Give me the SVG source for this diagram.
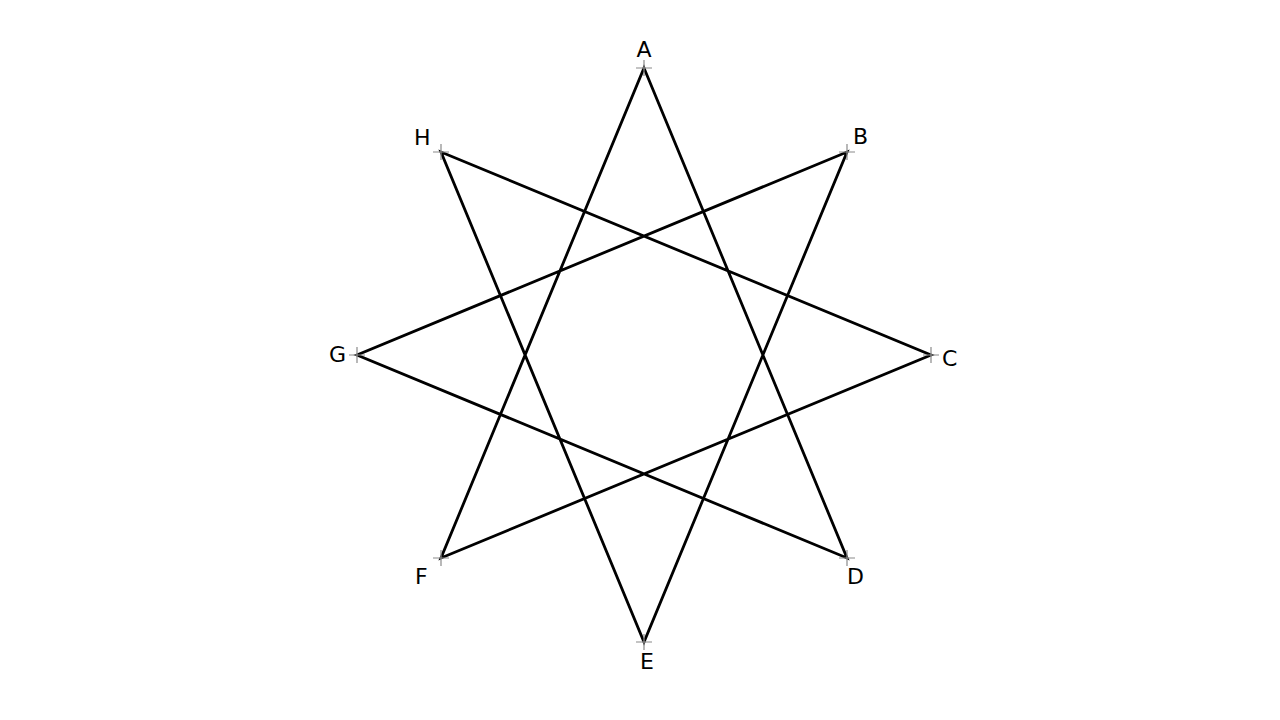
<svg xmlns="http://www.w3.org/2000/svg" width="1280" height="720" viewBox="0 0 1280 720">
<style>
.edge{stroke:#000;stroke-width:2.8;fill:none;stroke-linejoin:miter;stroke-linecap:round}
.tick{stroke:#8a8a8a;stroke-width:1.2;fill:none}
.lbl{font-family:"DejaVu Sans",sans-serif;font-size:22px;fill:#000}
</style>
<defs>
<path id="cross" class="tick" d="M-8,0H8M0,-8V8"/>
</defs>
<rect width="1280" height="720" fill="#fff"/>
<g id="connectors">
<path class="edge" d="M644,68L847,558L357,355L847,152L644,642L441,152L931,355L441,558Z"/>
</g>
<g id="A"><use href="#cross" x="644" y="68"/><text class="lbl" x="644" y="57" text-anchor="middle">A</text></g>
<g id="B"><use href="#cross" x="847" y="152"/><text class="lbl" x="853" y="144">B</text></g>
<g id="C"><use href="#cross" x="931" y="355"/><text class="lbl" x="942" y="366">C</text></g>
<g id="D"><use href="#cross" x="847" y="558"/><text class="lbl" x="847" y="584">D</text></g>
<g id="E"><use href="#cross" x="644" y="642"/><text class="lbl" x="647" y="669" text-anchor="middle">E</text></g>
<g id="F"><use href="#cross" x="441" y="558"/><text class="lbl" x="415" y="584">F</text></g>
<g id="G"><use href="#cross" x="357" y="355"/><text class="lbl" x="346" y="362" text-anchor="end">G</text></g>
<g id="H"><use href="#cross" x="441" y="152"/><text class="lbl" x="414" y="145">H</text></g>
</svg>
